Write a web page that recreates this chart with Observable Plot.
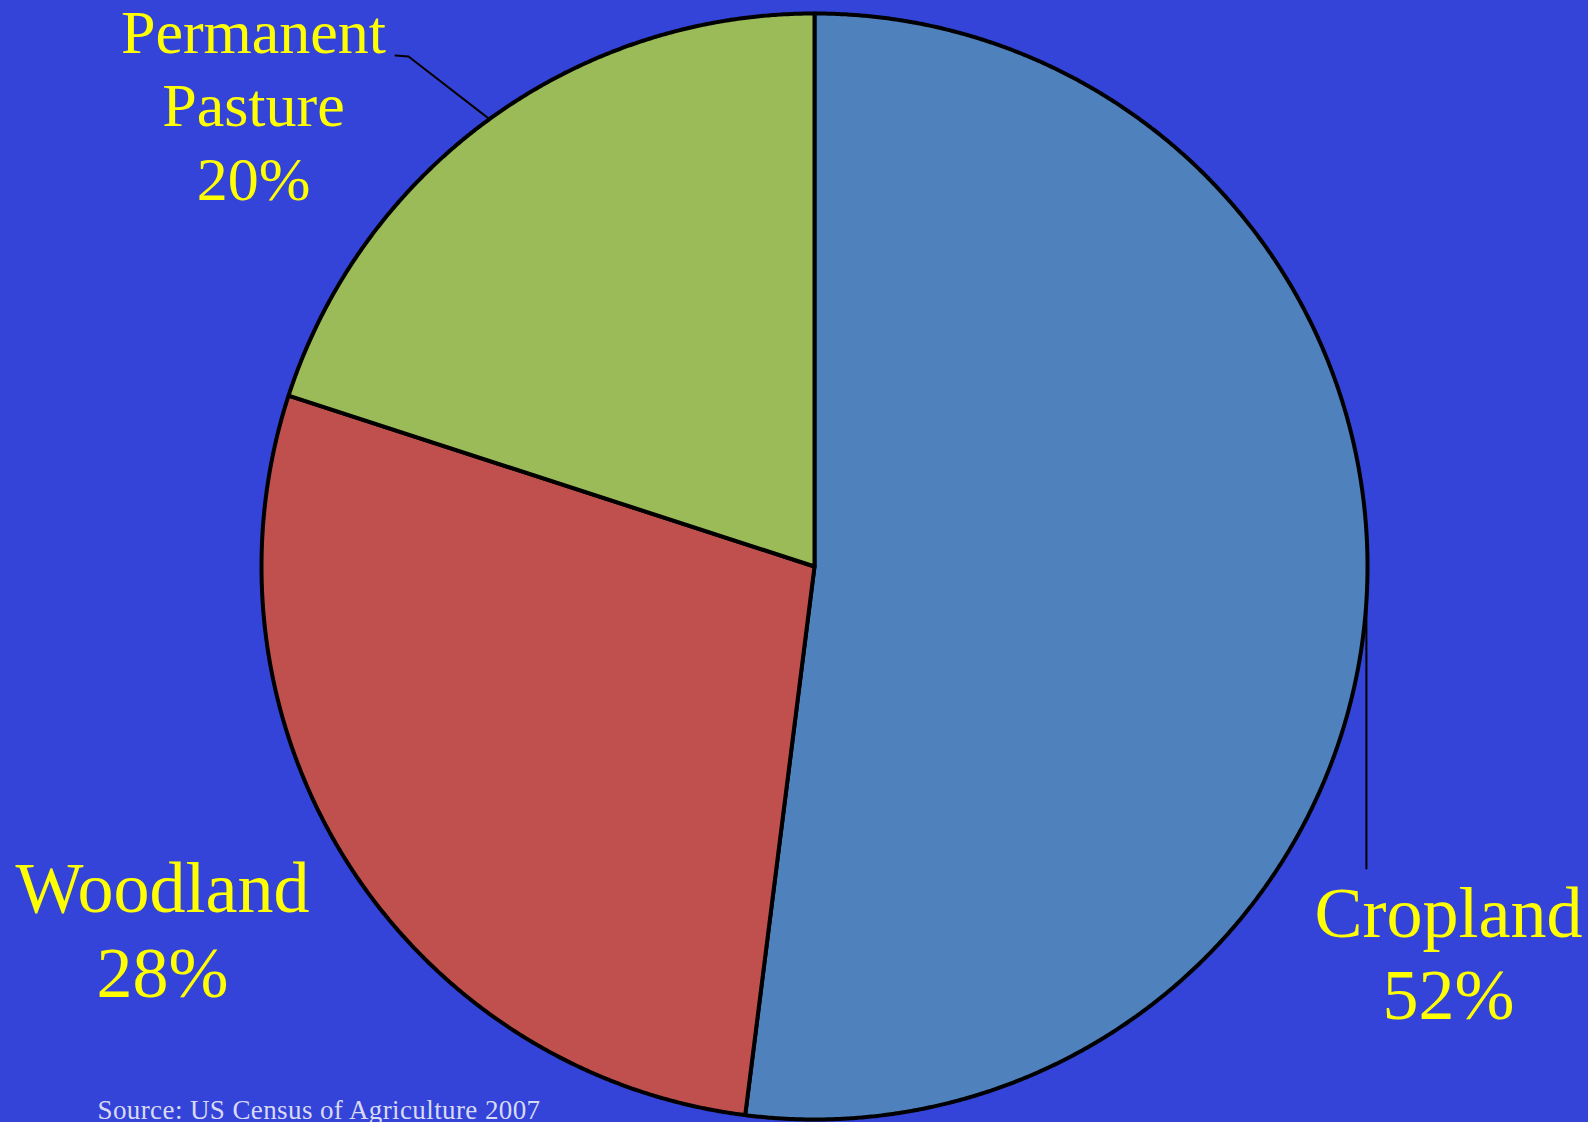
<!DOCTYPE html>
<html><head><meta charset="utf-8">
<script src="https://cdn.jsdelivr.net/npm/d3@7"></script>
<script src="https://cdn.jsdelivr.net/npm/@observablehq/plot@0.6"></script>
<style>
html,body{margin:0;padding:0;background:#3444D8;overflow:hidden;}
#chart{width:1588px;height:1122px;}
#chart svg{display:block;}
</style></head><body><div id="chart"></div>
<script>
// ---- data ----
const categories = ["Cropland", "Woodland", "Permanent\nPasture"];
const shares = [52, 28, 20];
const colors = ["#4F81BD", "#C0504D", "#9BBB59"];
const source = "Source: US Census of Agriculture 2007";

// ---- layout ----
const W = 1588, H = 1122, CX = 814, CY = 566, R = 553;
const px2d = (px, py) => ({x: (px - CX) / R, y: (CY - py) / R});

const table = categories.map((name, i) => ({name, value: shares[i]}));
const arcs = d3.pie().sort(null).value(d => d.value)(table);

const slicePoints = arcs.flatMap(a => {
  const pts = [{name: a.data.name, x: 0, y: 0}];
  const n = Math.max(2, Math.ceil((a.endAngle - a.startAngle) / 0.004));
  for (let k = 0; k <= n; k++) {
    const t = a.startAngle + (a.endAngle - a.startAngle) * k / n;
    pts.push({name: a.data.name, x: Math.sin(t), y: Math.cos(t)});
  }
  return pts;
});

const mid = a => (a.startAngle + a.endAngle) / 2;
const onEdge = a => ({x: Math.sin(mid(a)), y: Math.cos(mid(a))});

// leaders: Cropland straight down, Pasture up-left with short hook
const cropStart = onEdge(arcs[0]);
const pastStart = onEdge(arcs[2]);
const leaders = [
  {id: "c", ...cropStart},
  {id: "c", x: cropStart.x, y: px2d(0, 868).y},
  {id: "p", ...pastStart},
  {id: "p", ...px2d(408, 56)},
  {id: "p", ...px2d(395, 55)}
];

const labelLayout = [
  {dx: 1448, dy: 1018, size: 72, lh: 1.13},
  {dx: 162, dy: 996, size: 72, lh: 1.17},
  {dx: 253, dy: 199, size: 62, lh: 1.18}
];

const labelMarks = arcs.map((a, i) => {
  const L = labelLayout[i];
  return Plot.text([`${a.data.name}\n${a.data.value}%`], {
    frameAnchor: "top-left", dx: L.dx, dy: L.dy,
    textAnchor: "middle", lineAnchor: "bottom", lineHeight: L.lh,
    fontSize: L.size, fontFamily: "Liberation Serif, serif", fill: "#FFFF00"
  });
});

const chart = Plot.plot({
  width: W, height: H,
  margin: 0,
  style: {background: "#3444D8", overflow: "visible"},
  x: {domain: [-CX / R, (W - CX) / R], range: [0, W], axis: null},
  y: {domain: [-(H - CY) / R, CY / R], range: [H, 0], axis: null},
  color: {domain: categories, range: colors},
  marks: [
    Plot.line(slicePoints, {x: "x", y: "y", z: "name", fill: "name", stroke: "#000",
      strokeWidth: 4, strokeLinejoin: "round", curve: "linear-closed"}),
    Plot.line(leaders, {x: "x", y: "y", z: "id", stroke: "#000", strokeWidth: 2}),
    ...labelMarks,
    Plot.text([source], {frameAnchor: "top-left", dx: 97, dy: 1118, textAnchor: "start",
      lineAnchor: "bottom",
      fontSize: 27, fontFamily: "Liberation Serif, serif", fill: "#D8DAF4",
      style: "letter-spacing: 0.4px"})
  ]
});
chart.querySelectorAll("text").forEach(t => {
  if (t.textContent === source) t.setAttribute("letter-spacing", "0.4");
});
document.getElementById("chart").appendChild(chart);
</script></body></html>
